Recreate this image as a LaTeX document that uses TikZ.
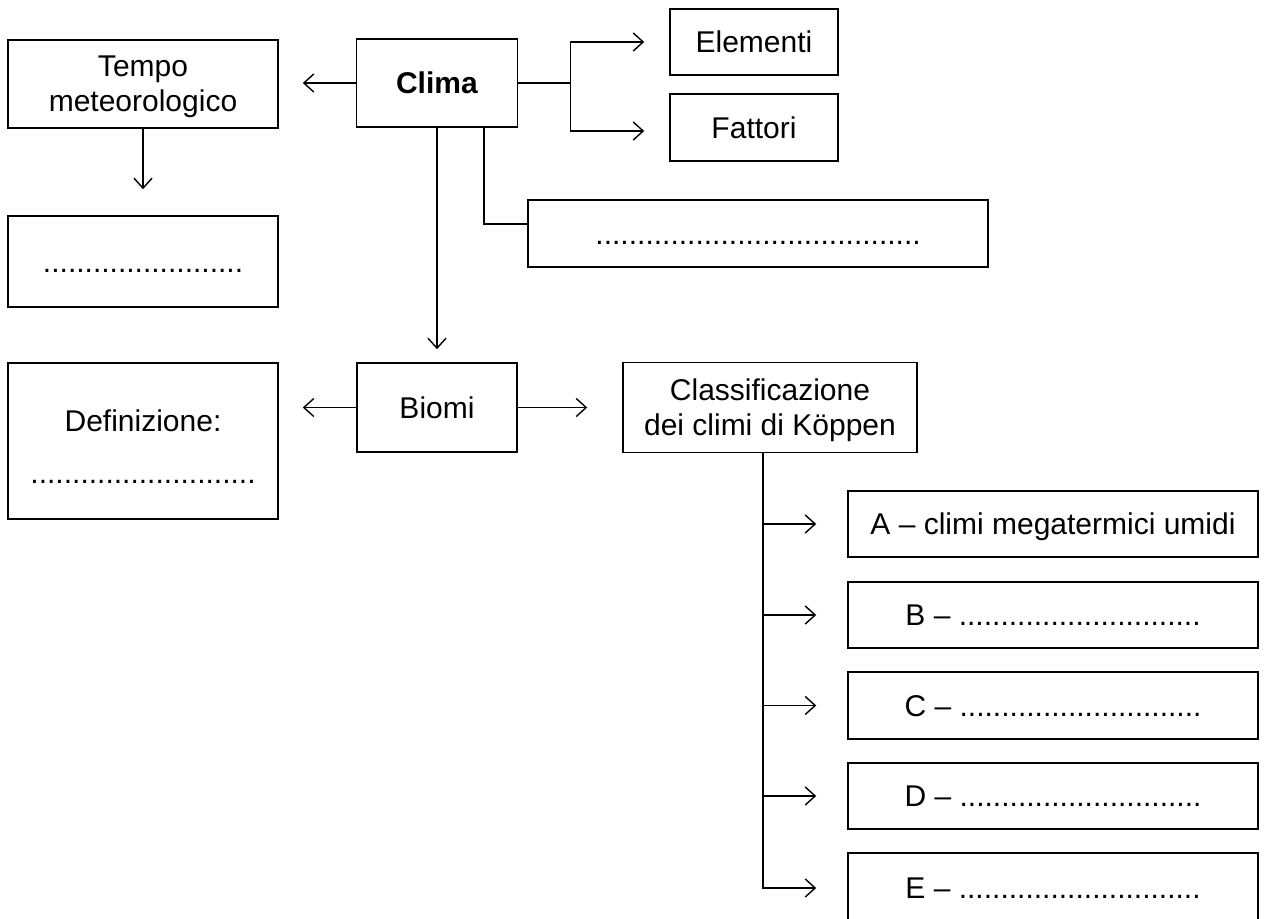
\documentclass[tikz,border=0pt]{standalone}
\usepackage{fontspec}
\setmainfont{Liberation Sans}
\usetikzlibrary{arrows.meta}
\begin{document}
\begin{tikzpicture}[x=0.5pt,y=-0.5pt,
  box/.style={draw, line width=0.75pt, inner sep=0pt, align=center, text depth=0pt,
    font=\fontsize{15pt}{17.5pt}\selectfont},
  one/.style={box, text height=10.75pt},
  conn/.style={line width=0.75pt},
  arr/.style={conn, -{Straight Barb[length=5pt,width=9pt,line width=0.7pt]}},
]
\useasboundingbox (0,0) rectangle (1275,919);
\fill[white] (0,0) rectangle (1275,919);
\begin{scope}
\clip (0,0) rectangle (1275,919);
% nodes
\node[box, minimum width=135pt, minimum height=44pt] (tempo) at (143,84) {Tempo\\meteorologico};
\node[one, minimum width=135pt, minimum height=45.5pt] (dots1) at (143,261.5) {........................};
\node[one, minimum width=80.5pt, minimum height=44pt] (clima) at (437,83) {\textbf{Clima}};
\node[one, minimum width=84pt, minimum height=33pt] (elem) at (754,42) {Elementi};
\node[one, minimum width=84pt, minimum height=33.5pt] (fatt) at (754,127.5) {Fattori};
\node[one, minimum width=230pt, minimum height=33.5pt] (dots2) at (758,233.5) {.......................................};
\node[one, minimum width=80pt, minimum height=44.5pt] (biomi) at (437,407.5) {Biomi};
\node[box, minimum width=135pt, minimum height=78pt] (defin) at (143,441) {\rule{0pt}{17pt}Definizione:\\[8.5pt]...........................};
\node[box, minimum width=147pt, minimum height=45pt] (koppen) at (770,407.5) {Classificazione\\dei climi di Köppen};
\node[one, minimum width=205pt, minimum height=33pt] (ka) at (1053,524) {A – climi megatermici umidi};
\node[one, minimum width=205pt, minimum height=33pt] (kb) at (1053,615) {B – .............................};
\node[one, minimum width=205pt, minimum height=33.5pt] (kc) at (1053,705.5) {C – .............................};
\node[one, minimum width=205pt, minimum height=33pt] (kd) at (1053,796) {D – .............................};
\node[one, minimum width=205pt, minimum height=35pt] (ke) at (1053,888) {E – .............................};
% connectors
\draw[arr, shorten >=12pt] (clima.west) -- (tempo.east |- clima.west);
\draw[arr, shorten >=13pt] (tempo.south) -- (dots1.north);
\draw[conn] (clima.east) -- ++(52,0) coordinate (jr);
\draw[arr, shorten >=12.5pt] (jr) |- (elem.west);
\draw[arr, shorten >=12.5pt] (jr) |- ([yshift=-1.75pt]fatt.west);
\draw[arr, shorten >=6.5pt] (clima.south) -- (biomi.north);
\draw[conn] ([xshift=23.5pt]clima.south) |- ([yshift=4.75pt]dots2.west);
\draw[arr, shorten >=12pt] (biomi.west) -- (defin.east |- biomi.west);
\draw[arr, shorten >=17.5pt] (biomi.east) -- (koppen.west);
\coordinate (trunk) at ([xshift=-3.5pt]koppen.south);
\draw[arr, shorten >=15.5pt] (trunk) |- (ke.west);
\draw[arr, shorten >=15.5pt] (trunk |- ka.west) -- (ka.west);
\draw[arr, shorten >=15.5pt] (trunk |- kb.west) -- (kb.west);
\draw[arr, shorten >=15.5pt] (trunk |- kc.west) -- (kc.west);
\draw[arr, shorten >=15.5pt] (trunk |- kd.west) -- (kd.west);
\end{scope}
\end{tikzpicture}
\end{document}
